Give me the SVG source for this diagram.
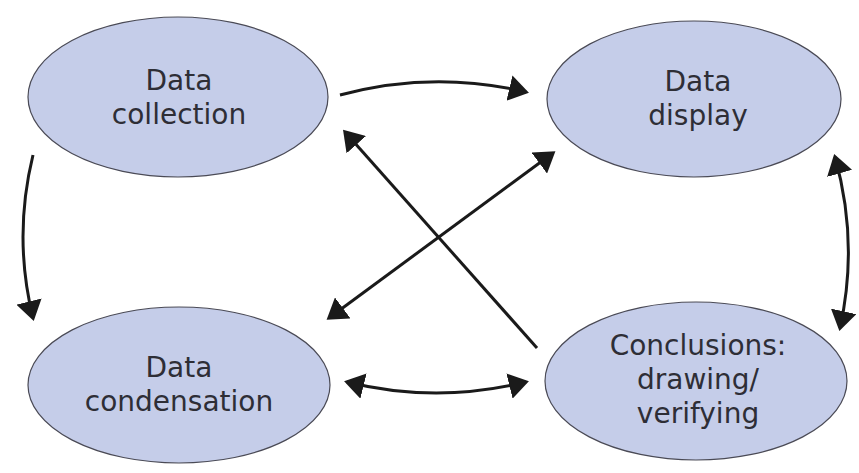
<svg xmlns="http://www.w3.org/2000/svg" width="859" height="473" viewBox="0 0 859 473">
  <style>
    .node ellipse { fill: #c5cde9; stroke: #4a4a55; stroke-width: 1.2; }
    .node text { font-family: "DejaVu Sans", "Open Sans", sans-serif; font-size: 28px; fill: #2e2e36; text-anchor: middle; font-variant-ligatures: none; }
    .conn path { fill: none; stroke: #1a1a1a; stroke-width: 3; }
  </style>
  <defs>
    <marker id="arrow" viewBox="0 0 20 26" refX="17" refY="13" markerWidth="20" markerHeight="26" markerUnits="userSpaceOnUse" orient="auto-start-reverse">
      <path d="M0,0 L20,13 L0,26 Z" fill="#1a1a1a"/>
    </marker>
  </defs>
  <rect width="859" height="473" fill="#ffffff"/>

  <g id="data-collection" class="node">
    <ellipse cx="178" cy="97" rx="150" ry="80"/>
    <text x="179" y="90">Data</text>
    <text x="179" y="124">collection</text>
  </g>
  <g id="data-display" class="node">
    <ellipse cx="694" cy="99" rx="147" ry="78"/>
    <text x="698" y="91">Data</text>
    <text x="698" y="125">display</text>
  </g>
  <g id="data-condensation" class="node">
    <ellipse cx="179" cy="385" rx="151" ry="78"/>
    <text x="179" y="377">Data</text>
    <text x="179" y="411">condensation</text>
  </g>
  <g id="conclusions" class="node">
    <ellipse cx="696" cy="381" rx="151" ry="79"/>
    <text x="698" y="355">Conclusions:</text>
    <text x="698" y="389">drawing/</text>
    <text x="698" y="423">verifying</text>
  </g>

  <g id="connectors" class="conn">
    <path d="M340,95 Q433,70 526,92" marker-end="url(#arrow)"/>
    <path d="M33,155 Q13,237 33,318" marker-end="url(#arrow)"/>
    <path d="M835,157 Q859,242 840,328" marker-start="url(#arrow)" marker-end="url(#arrow)"/>
    <path d="M347,382 Q436,404 526,382" marker-start="url(#arrow)" marker-end="url(#arrow)"/>
    <path d="M537,348 L345,132" marker-end="url(#arrow)"/>
    <path d="M329,318 L553,153" marker-start="url(#arrow)" marker-end="url(#arrow)"/>
  </g>
</svg>
